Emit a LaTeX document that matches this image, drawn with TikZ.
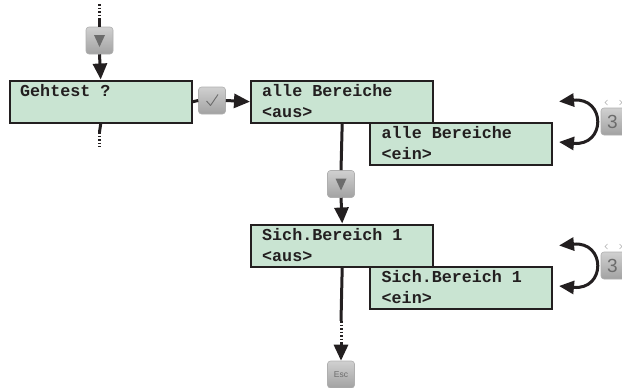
\documentclass[tikz,border=0pt]{standalone}
\usepackage{fontspec}
\setmainfont{Liberation Sans}
\newfontfamily\lcdfont{Liberation Mono}
\usetikzlibrary{arrows.meta,calc,shadings}
\definecolor{lcdgreen}{RGB}{201,228,210}
\definecolor{frame}{RGB}{35,31,32}
\definecolor{keytop}{RGB}{208,208,208}
\definecolor{keybot}{RGB}{162,162,162}
\definecolor{keyedge}{RGB}{175,175,175}
\definecolor{keyglyph}{RGB}{108,108,108}
\begin{document}
\begin{tikzpicture}[x=1pt,y=-1pt,
  lcd/.style={draw=frame, fill=lcdgreen, line width=2.4pt, minimum width=182pt,
    minimum height=42pt, inner sep=0pt, anchor=north west},
  lcdtext/.style={anchor=base west, inner sep=0pt,
    font=\lcdfont\bfseries\fontsize{16.7}{18}\selectfont, text=frame},
  keybox/.style={rounded corners=3pt, minimum size=27pt, inner sep=0pt,
    top color=keytop, bottom color=keybot, draw=keyedge, line width=0.6pt},
  conn/.style={line width=3pt, draw=frame},
  arr/.style={conn, -{Triangle[length=16pt,width=14pt]}},
  dots/.style={conn, dash pattern=on 1.7pt off 1.8pt},
  loopa/.style={conn, {Triangle[length=15pt,width=13pt]}-{Triangle[length=15pt,width=13pt]}}
]
\useasboundingbox (0,0) rectangle (622,388);

% LCD boxes
\node[lcd] (geh) at (8.5,79.5) {};
\node[lcd] (aus) at (250,79.5) {};
\node[lcd] (ein) at (369,121.5) {};
\node[lcd] (sich) at (250,223.5) {};
\node[lcd] (sein) at (369,265.5) {};

% LCD texts
\node[lcdtext] (tgeh) at (20,96.5) {Gehtest ?};
\node[lcdtext] (taus1) at (262,96.5) {alle Bereiche};
\node[lcdtext] (taus2) at (262,117.5) {<aus>};
\node[lcdtext] (tein1) at (381.5,138.5) {alle Bereiche};
\node[lcdtext] (tein2) at (381.5,159.5) {<ein>};
\node[lcdtext] (tsich1) at (262,240.5) {Sich.Bereich 1};
\node[lcdtext] (tsich2) at (262,261.5) {<aus>};
\node[lcdtext] (tsein1) at (381.5,282.5) {Sich.Bereich 1};
\node[lcdtext] (tsein2) at (381.5,303.5) {<ein>};

% keys
\node[keybox] (k1) at (99.5,40.5) {};
\node[keybox] (kc) at (212,100.5) {};
\node[keybox] (k2) at (341,184) {};
\node[keybox] (esc) at (341,374.5) {};
\node[keybox] (k3a) at (614.5,121.5) {};
\node[keybox] (k3b) at (614.5,265.5) {};

% key glyphs
\fill[keyglyph] ($(k1)+(-5.5,-5.5)$) -- ($(k1)+(5.5,-5.5)$) -- ($(k1)+(0,6.5)$) -- cycle;
\fill[keyglyph] ($(k2)+(-5.5,-5.5)$) -- ($(k2)+(5.5,-5.5)$) -- ($(k2)+(0,6.5)$) -- cycle;
\draw[keyglyph, line width=0.9pt, line join=round] ($(kc)+(-5.5,0.5)$) -- ($(kc)+(-1.5,5)$) -- ($(kc)+(6,-6)$);
\node[text=keyglyph, font=\fontsize{8.5}{9}\selectfont, inner sep=0pt] (tesc) at ($(esc)+(0,0.5)$) {Esc};
\node[text=keyglyph, font=\fontsize{19}{19}\selectfont, inner sep=0pt] (t3a) at (612.5,121.5) {3};
\node[text=keyglyph, font=\fontsize{19}{19}\selectfont, inner sep=0pt] (t3b) at (612.5,265.5) {3};
\foreach \yy in {102.5,246.5}{
  \draw[keyedge, line width=0.5pt] (607.5,\yy-2.5) -- (605,\yy) -- (607.5,\yy+2.5);
  \draw[keyedge, line width=0.5pt] (619.5,\yy-2.5) -- (622,\yy) -- (619.5,\yy+2.5);
}

% connectors
\coordinate (top0) at (99.5,4);
\coordinate (top1) at (99.5,20);
\draw[dots] (top0) -- (top1);
\draw[conn] (top1) -- (k1.north);
\draw[arr] (k1.south) -- (geh.north);

\coordinate (g1) at (99.5,132);
\coordinate (g2) at (99.5,147);
\draw[conn] (geh.south) -- (g1);
\draw[dots] (g1) -- (g2);

\draw[conn] (geh.east) -- (kc.west);
\draw[arr] (kc.east) -- (aus.west);

\draw[conn] (aus.south) -- (k2.north);
\draw[arr] (k2.south) -- (sich.north);

\coordinate (s1) at (341,321);
\coordinate (s2) at (341,344);
\draw[conn] (sich.south) -- (s1);
\draw[dots] (s1) -- (s2);
\draw[arr] (s2) -- (esc.north);

% toggle loops
\coordinate (c1a) at (559,101.5);
\coordinate (c1b) at (559,142);
\draw[loopa] (c1a) .. controls (606,97) and (606,146.5) .. (c1b);
\coordinate (c2a) at (559,245.5);
\coordinate (c2b) at (559,286);
\draw[loopa] (c2a) .. controls (606,241) and (606,290.5) .. (c2b);
\end{tikzpicture}
\end{document}
